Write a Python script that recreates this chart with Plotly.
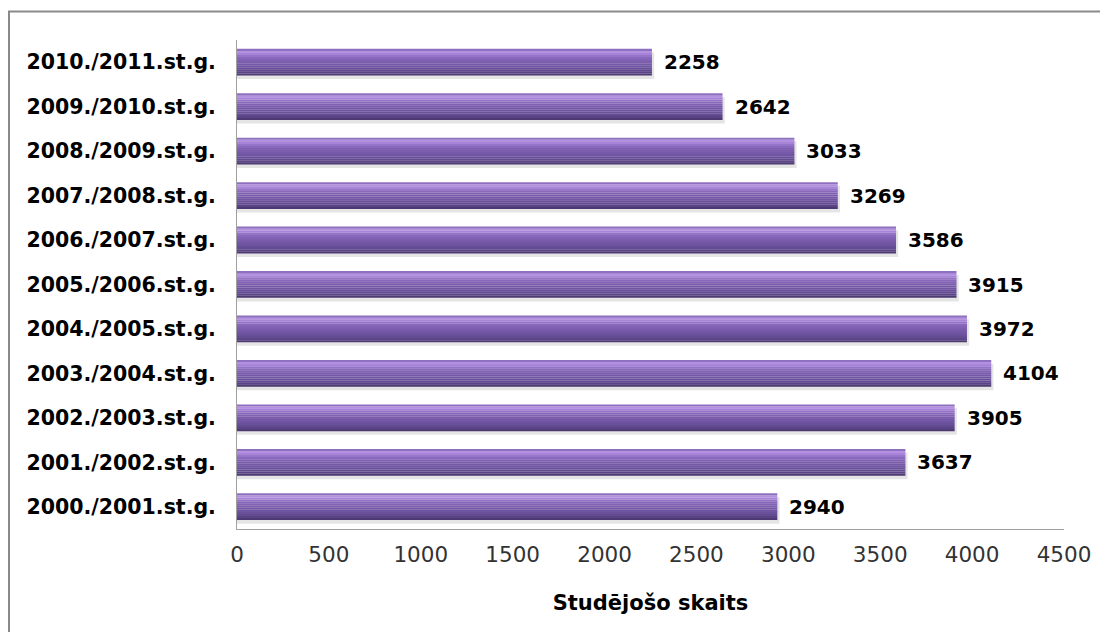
import plotly.graph_objects as go

categories = ["2000./2001.st.g.", "2001./2002.st.g.", "2002./2003.st.g.", "2003./2004.st.g.",
              "2004./2005.st.g.", "2005./2006.st.g.", "2006./2007.st.g.", "2007./2008.st.g.",
              "2008./2009.st.g.", "2009./2010.st.g.", "2010./2011.st.g."]
values = [2940, 3637, 3905, 4104, 3972, 3915, 3586, 3269, 3033, 2642, 2258]
x_ticks = [0, 500, 1000, 1500, 2000, 2500, 3000, 3500, 4000, 4500]
x_title = "Studējošo skaits"

# page has an 8px body margin; figure sized so plot lands where the reference has it
OFF = 8
W, H = 1108 - OFF, 632 - OFF
L, R, T, B = 237 - OFF, 44, 40 - OFF, 111 - OFF
FONT = "DejaVu Sans"

# gradient bands, bottom to top
band_colors = ["#4e3a72", "#5b4486", "#634b92", "#6a509b", "#7055a2", "#7658a8", "#7b5cad",
               "#8161b3", "#8868bb", "#9473c8", "#a784d8", "#b391e0", "#8f70c0"]
bar_w = 0.6
nb = len(band_colors)
bw = bar_w / nb

fig = go.Figure()
# soft shadow
fig.add_trace(go.Bar(y=categories, x=[v + 12 for v in values], orientation="h",
                     width=bar_w, offset=-bar_w / 2 - 0.08,
                     marker=dict(color="rgba(0,0,0,0.10)", line=dict(width=0)),
                     hoverinfo="skip", showlegend=False))
for i, c in enumerate(band_colors):
    fig.add_trace(go.Bar(y=categories, x=values, orientation="h",
                         width=bw * 1.05, offset=-bar_w / 2 + i * bw,
                         marker=dict(color=c, line=dict(width=0)),
                         hoverinfo="skip", showlegend=False))

for cat, v in zip(categories, values):
    fig.add_annotation(x=v, y=cat, text=str(v), showarrow=False, xanchor="left",
                       xshift=10, font=dict(family=FONT, size=20, color="#000000", weight="bold"))

pw, ph = W - L - R, H - T - B
def px_x(x):
    return (x - OFF - L) / pw
def px_y(y):
    return (H - B - (y - OFF)) / ph

border = "#8a8a8a"
fig.add_shape(type="line", xref="paper", yref="paper", x0=px_x(8), x1=px_x(1110),
              y0=px_y(11.5), y1=px_y(11.5), line=dict(color=border, width=2))
fig.add_shape(type="line", xref="paper", yref="paper", x0=px_x(9), x1=px_x(9),
              y0=px_y(11), y1=px_y(634), line=dict(color=border, width=2))

fig.update_layout(
    width=W, height=H, barmode="overlay", bargap=0.4,
    margin=dict(l=L, r=R, t=T, b=B),
    paper_bgcolor="white", plot_bgcolor="white",
    xaxis=dict(range=[0, 4500], tickvals=x_ticks, ticktext=[str(t) for t in x_ticks],
               showgrid=False, zeroline=False, showline=True, linecolor="#a0a0a0", linewidth=1,
               ticks="", ticklabelstandoff=6,
               tickfont=dict(family=FONT, size=21.5, color="#333333"),
               title=dict(text=x_title, font=dict(family=FONT, size=21, color="#000000", weight="bold"),
                          standoff=29)),
    yaxis=dict(range=[-0.5, 10.5], type="category", showgrid=False, zeroline=False,
               showline=True, linecolor="#a0a0a0", linewidth=1, ticks="",
               ticklabelstandoff=16,
               tickfont=dict(family=FONT, size=20.5, color="#000000", weight="bold")),
)

fig.write_html("out.html")
